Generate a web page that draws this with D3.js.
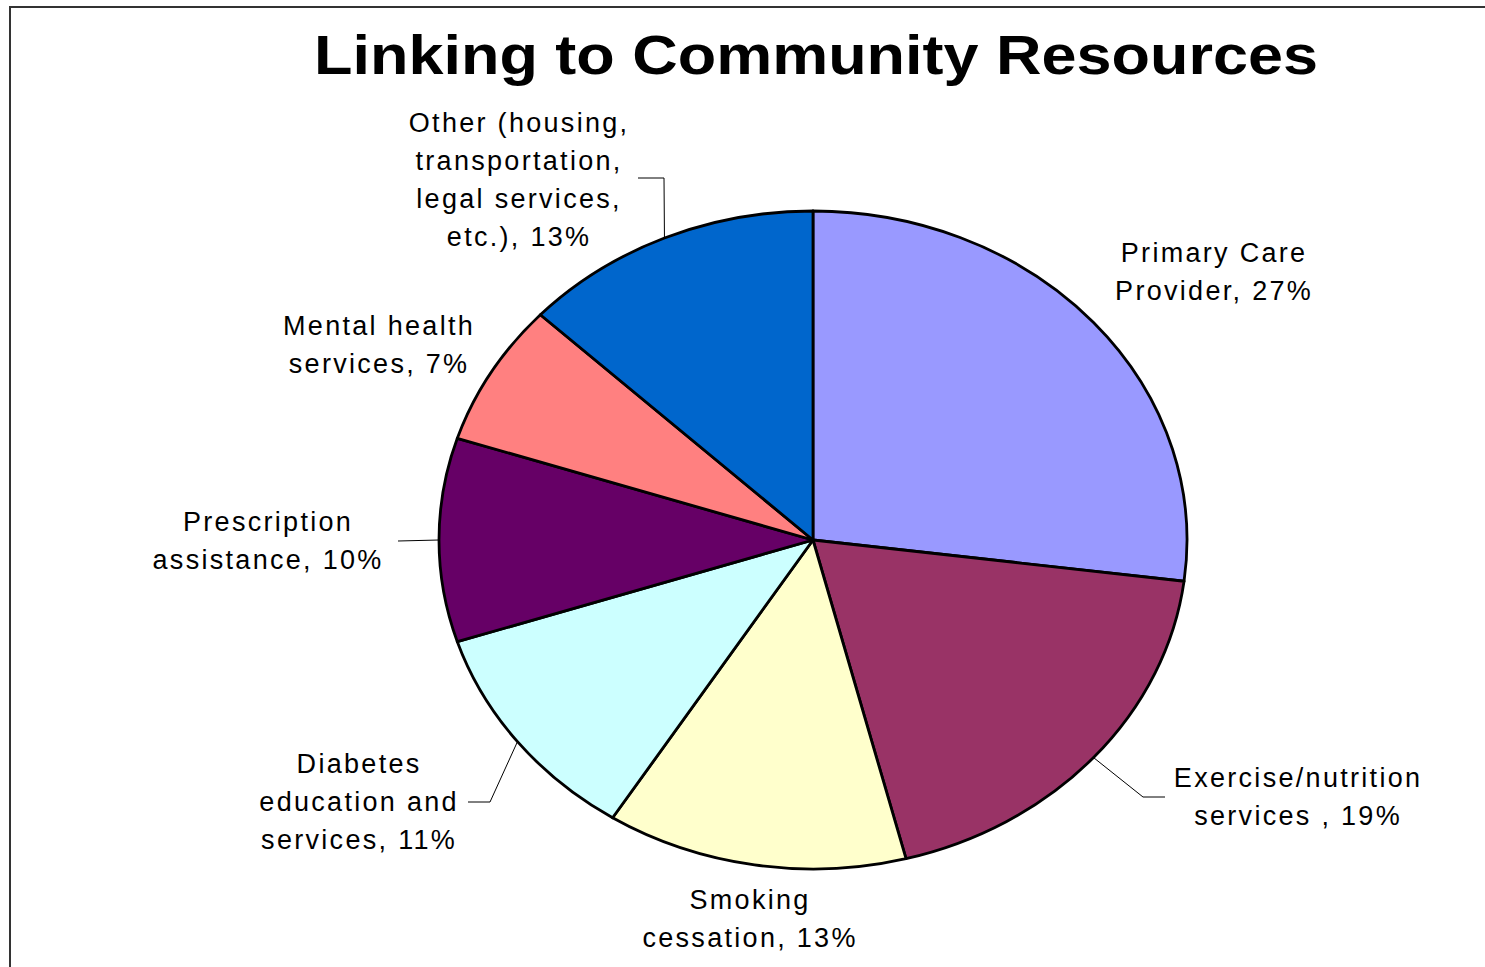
<!DOCTYPE html>
<html>
<head>
<meta charset="utf-8">
<script src="https://cdn.jsdelivr.net/npm/d3@7"></script>
<style>
  body { margin: 0; background: #fff; }
  text { font-family: "Liberation Sans", Arial, sans-serif; fill: #000; }
</style>
</head>
<body>
<div id="chart"></div>
<script>
// slice data, clockwise from 12 o'clock
var categories = [
  "Primary Care Provider",
  "Exercise/nutrition services",
  "Smoking cessation",
  "Diabetes education and services",
  "Prescription assistance",
  "Mental health services",
  "Other (housing, transportation, legal services, etc.)"
];
var values = [27, 19, 13, 11, 10, 7, 13];
var labelLines = [
  ["Primary Care", "Provider, 27%"],
  ["Exercise/nutrition", "services , 19%"],
  ["Smoking", "cessation, 13%"],
  ["Diabetes", "education and", "services, 11%"],
  ["Prescription", "assistance, 10%"],
  ["Mental health", "services, 7%"],
  ["Other (housing,", "transportation,", "legal services,", "etc.), 13%"]
];
var colors = ["#9999FF", "#993366", "#FFFFCC", "#CCFFFF", "#660066", "#FF8080", "#0066CC"];

// layout (label placement + leader elbows)
var labelPos = [
  {x: 1213, y: 253, elbow: null},
  {x: 1297, y: 778, elbow: [[1143, 797], [1165, 797]]},
  {x: 749,  y: 900, elbow: null},
  {x: 358,  y: 764, elbow: [[490, 802], [468, 802]]},
  {x: 267,  y: 522, elbow: [[398, 541]]},
  {x: 378,  y: 326, elbow: null},
  {x: 518,  y: 123, elbow: [[664, 178], [638, 178]]}
];

var W = 1485, H = 967;
var cx = 813, cy = 540, rx = 374, ry = 329;
var lineH = 38;

var svg = d3.select("#chart").append("svg")
    .attr("width", W)
    .attr("height", H);

// frame
svg.append("rect")
    .attr("x", 10).attr("y", 7)
    .attr("width", W + 10).attr("height", H + 10)
    .attr("fill", "none")
    .attr("stroke", "#333")
    .attr("stroke-width", 2);

svg.append("text")
    .attr("x", 816)
    .attr("y", 74)
    .attr("text-anchor", "middle")
    .style("font-size", "56px")
    .style("font-weight", "bold")
    .attr("textLength", 1004)
    .attr("lengthAdjust", "spacingAndGlyphs")
    .text("Linking to Community Resources");

var pie = d3.pie().sort(null).value(function(d) { return d; });
var arcs = pie(values);

var arc = d3.arc().innerRadius(0).outerRadius(rx);

var g = svg.append("g")
    .attr("transform", "translate(" + cx + "," + cy + ") scale(1," + (ry / rx) + ")");

g.selectAll("path")
    .data(arcs)
    .enter().append("path")
    .attr("d", arc)
    .attr("fill", function(d, i) { return colors[i]; })
    .attr("stroke", "#000")
    .attr("stroke-width", 2.8)
    .attr("vector-effect", "non-scaling-stroke")
    .attr("stroke-linejoin", "round");

// point on ellipse edge at slice mid angle
function edgePoint(d) {
  var a = (d.startAngle + d.endAngle) / 2;
  return [cx + rx * Math.sin(a), cy - ry * Math.cos(a)];
}

var line = d3.line();
arcs.forEach(function(d, i) {
  var lp = labelPos[i];
  if (lp.elbow) {
    var pts = [edgePoint(d)].concat(lp.elbow);
    svg.append("path")
        .attr("d", line(pts))
        .attr("fill", "none")
        .attr("stroke", "#000")
        .attr("stroke-width", 1);
  }
  var t = svg.append("text")
      .attr("text-anchor", "middle")
      .style("font-size", "27px")
      .style("letter-spacing", "2.3px");
  labelLines[i].forEach(function(s, k) {
    t.append("tspan")
        .attr("x", lp.x + 1.1)
        .attr("y", lp.y + k * lineH)
        .attr("dy", "0.35em")
        .text(s);
  });
});
</script>
</body>
</html>
